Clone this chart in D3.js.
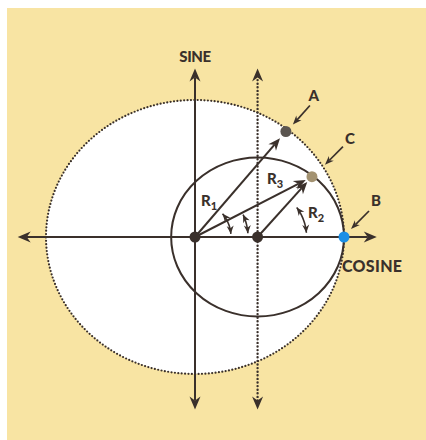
<!DOCTYPE html>
<html><head><meta charset="utf-8">
<script src="https://cdn.jsdelivr.net/npm/d3@7"></script>
<style>html,body{margin:0;padding:0;background:#fff;}svg{display:block;}</style>
</head><body>
<script>
// ---- data (unit circle coordinates) ----
const axisExtentX = [-1.19, 1.22];
const axisExtentY = [-1.26, 1.23];
const bigCircle = {cx: 0, cy: 0, r: 1};
const smallCircle = {cx: 0.42, cy: 0, r: 0.58};
const pointNames = ["A", "C", "B"];
const pointX = [0.61, 0.785, 1.0];
const pointY = [0.77, 0.44, 0.0];
const pointColors = ["#5b5550", "#a39271", "#1b8fe6"];
const centers = [0, 0.42];
const radiusLabels = ["R1", "R3", "R2"];
const axisLabels = ["SINE", "COSINE"];

const W = 426, H = 440;
const ink = "#3a302b";
const FONT = "Lato, 'Open Sans', sans-serif";
const svg = d3.select("body").append("svg").attr("width", W).attr("height", H);
svg.append("rect").attr("x", 7).attr("y", 8).attr("width", W - 7).attr("height", H - 8).attr("fill", "#f8e4a3");

const x = d3.scaleLinear().domain([0, 1]).range([195, 344]);
const y = d3.scaleLinear().domain([0, 1]).range([237, 100]);
const sx = d => x(d) - x(0), sy = d => y(0) - y(d);

const g = svg.append("g");

function head(px, py, ang, L = 13, Wd = 11) {
  g.append("path")
    .attr("d", `M0,0 L${-L},${-Wd / 2} L${-L * 0.7},0 L${-L},${Wd / 2} Z`)
    .attr("transform", `translate(${px},${py}) rotate(${ang * 180 / Math.PI})`)
    .attr("fill", ink);
}
function arrow(x1, y1, x2, y2, o = {}) {
  const L = o.L || 13, Wd = o.W || 11, sw = o.sw || 2;
  const a = Math.atan2(y2 - y1, x2 - x1);
  const s = L * 0.7;
  const ex = x2 - Math.cos(a) * s, ey = y2 - Math.sin(a) * s;
  let bx = x1, by = y1;
  if (o.both) { bx = x1 + Math.cos(a) * s; by = y1 + Math.sin(a) * s; }
  const ln = g.append("line").attr("x1", bx).attr("y1", by).attr("x2", ex).attr("y2", ey)
    .attr("stroke", ink).attr("stroke-width", sw);
  if (o.dash) ln.attr("stroke-dasharray", "0,3.6").attr("stroke-linecap", "round").attr("stroke-width", 2.4);
  head(x2, y2, a, L, Wd);
  if (o.both) head(x1, y1, a + Math.PI, L, Wd);
}

// big dotted ellipse (white fill)
g.append("ellipse").attr("cx", x(bigCircle.cx)).attr("cy", y(bigCircle.cy))
  .attr("rx", sx(bigCircle.r)).attr("ry", sy(bigCircle.r))
  .attr("fill", "#fff").attr("stroke", ink).attr("stroke-width", 2.2)
  .attr("stroke-dasharray", "0,3.4").attr("stroke-linecap", "round");

// small solid ellipse
g.append("ellipse").attr("cx", x(smallCircle.cx)).attr("cy", y(smallCircle.cy))
  .attr("rx", sx(smallCircle.r)).attr("ry", sy(smallCircle.r))
  .attr("fill", "none").attr("stroke", ink).attr("stroke-width", 2);

// axes
arrow(x(axisExtentX[0]), y(0), x(axisExtentX[1]), y(0), {both: true});
arrow(x(0), y(axisExtentY[0]), x(0), y(axisExtentY[1]), {both: true});
arrow(x(centers[1]), y(axisExtentY[0]), x(centers[1]), y(axisExtentY[1]), {both: true, dash: true});

// radius arrows
function radArrow(cx0, i, gap) {
  const x1 = x(cx0), y1 = y(0), x2 = x(pointX[i]), y2 = y(pointY[i]);
  const a = Math.atan2(y2 - y1, x2 - x1);
  arrow(x1, y1, x2 - Math.cos(a) * gap, y2 - Math.sin(a) * gap, {L: 12, W: 10});
}
radArrow(centers[0], 0, 9);
radArrow(centers[0], 1, 7);
radArrow(centers[1], 1, 7);

// angle arcs (double-headed)
function angArc(cxp, cyp, r, a0, a1) {
  const r0 = a0 * Math.PI / 180, r1 = a1 * Math.PI / 180;
  const p = d3.path();
  const n = 20;
  for (let k = 0; k <= n; k++) {
    const t = r0 + (r1 - r0) * k / n;
    const px = cxp + r * Math.cos(t), py = cyp - r * Math.sin(t);
    k ? p.lineTo(px, py) : p.moveTo(px, py);
  }
  g.append("path").attr("d", p.toString()).attr("fill", "none").attr("stroke", ink).attr("stroke-width", 1.6);
  head(cxp + r * Math.cos(r1), cyp - r * Math.sin(r1), Math.atan2(Math.cos(r1), Math.sin(r1)), 8, 7);
  head(cxp + r * Math.cos(r0), cyp - r * Math.sin(r0), Math.atan2(-Math.cos(r0), -Math.sin(r0)), 8, 7);
}
angArc(x(0), y(0), 36, 40, 5);
angArc(x(0), y(0), 53, 25, 4);
angArc(x(centers[1]), y(0), 49, 37, 5);

// center dots
centers.forEach(c => g.append("circle").attr("cx", x(c)).attr("cy", y(0)).attr("r", 5.5).attr("fill", ink));

// points
pointNames.forEach((n, i) => {
  g.append("circle").attr("cx", x(pointX[i])).attr("cy", y(pointY[i])).attr("r", 5.5)
    .attr("fill", pointColors[i]);
});

// label pointer arrows & letters
const ptrFrom = [[24, -26], [31, -30], [25, -26]];
const ptrTo = [[7, -7], [13, -12], [7, -8]];
const lblOff = [[28, -31], [38, -33], [32, -31]];
pointNames.forEach((n, i) => {
  const px = x(pointX[i]), py = y(pointY[i]);
  arrow(px + ptrFrom[i][0], py + ptrFrom[i][1], px + ptrTo[i][0], py + ptrTo[i][1], {L: 9, W: 7, sw: 1.7});
  g.append("text").attr("x", px + lblOff[i][0]).attr("y", py + lblOff[i][1])
    .attr("text-anchor", "middle").attr("font-family", FONT)
    .attr("font-weight", 900).attr("font-size", 15).attr("fill", ink).text(n);
});

// radius labels
const rLblPos = [[201, 206], [267, 184], [308, 218]];
radiusLabels.forEach((t, i) => {
  const tx = g.append("text").attr("x", rLblPos[i][0]).attr("y", rLblPos[i][1])
    .attr("font-family", FONT).attr("font-weight", 900)
    .attr("font-size", 15).attr("fill", ink);
  tx.append("tspan").text(t[0]);
  tx.append("tspan").attr("dy", 4).attr("font-size", 11).text(t.slice(1));
});

// axis labels
g.append("text").attr("x", x(0)).attr("y", 62).attr("text-anchor", "middle")
  .attr("font-family", FONT).attr("font-weight", 900)
  .attr("font-size", 15).attr("letter-spacing", -0.4).attr("fill", ink).text(axisLabels[0]);
g.append("text").attr("x", 342).attr("y", 272)
  .attr("font-family", FONT).attr("font-weight", 900)
  .attr("font-size", 16).attr("letter-spacing", 0.3).attr("fill", ink).text(axisLabels[1]);
</script>
</body></html>
